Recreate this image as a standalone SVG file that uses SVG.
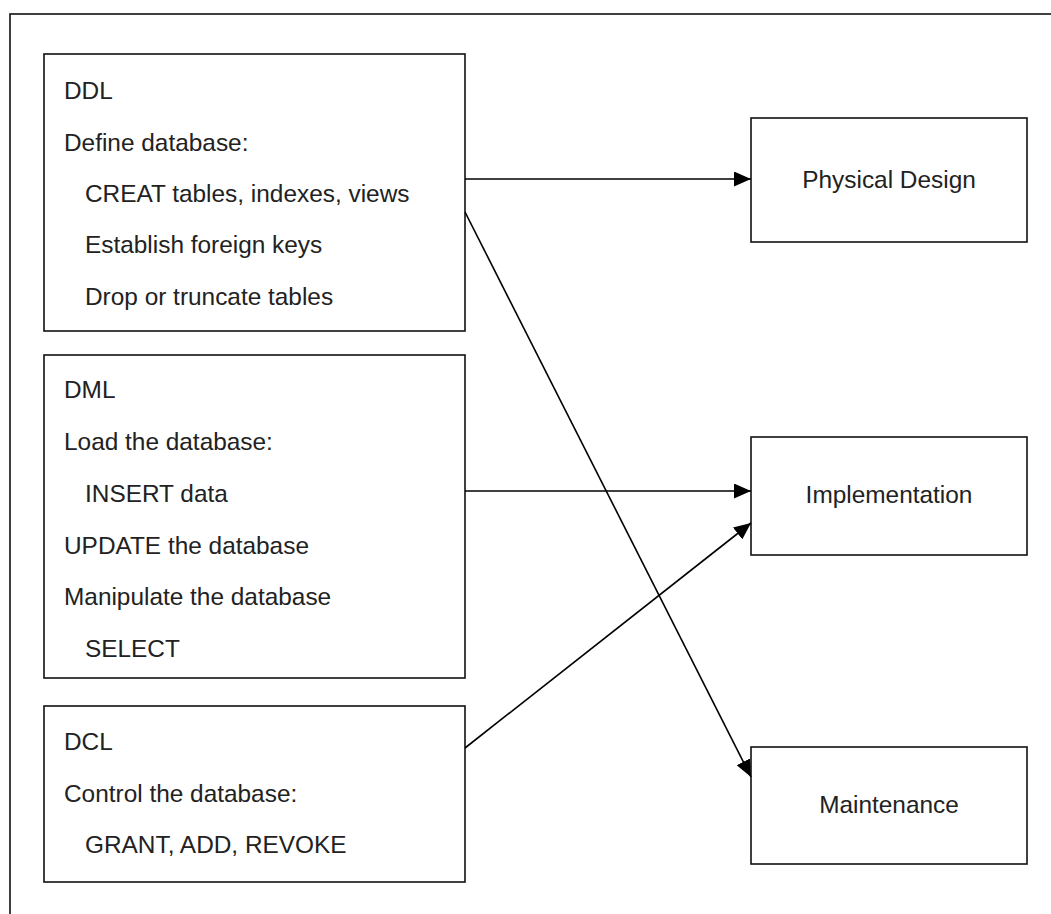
<svg xmlns="http://www.w3.org/2000/svg" width="1051" height="914" viewBox="0 0 1051 914">
<style>
.box{fill:#fff;stroke:#111;stroke-width:1.6}
.t{font-family:"Liberation Sans",Arial,sans-serif;font-size:24.4px;fill:#222}
.c{text-anchor:middle}
.conn{stroke:#000;stroke-width:1.6;fill:none;marker-end:url(#ah)}
</style>
<defs>
<marker id="ah" markerUnits="userSpaceOnUse" markerWidth="18" markerHeight="15" refX="17" refY="7.5" orient="auto">
<path d="M0,0 L17,7.5 L0,15 z" fill="#000"/>
</marker>
</defs>
<rect width="1051" height="914" fill="#fff"/>
<rect x="10" y="14" width="1100" height="1000" fill="none" stroke="#111" stroke-width="1.6"/>
<g id="ddl">
<rect class="box" x="44" y="54" width="421" height="277"/>
<text class="t" x="64" y="99">DDL</text>
<text class="t" x="64" y="151">Define database:</text>
<text class="t" x="85" y="202">CREAT tables, indexes, views</text>
<text class="t" x="85" y="253">Establish foreign keys</text>
<text class="t" x="85" y="305">Drop or truncate tables</text>
</g>
<g id="dml">
<rect class="box" x="44" y="355" width="421" height="323"/>
<text class="t" x="64" y="398">DML</text>
<text class="t" x="64" y="450">Load the database:</text>
<text class="t" x="85" y="502">INSERT data</text>
<text class="t" x="64" y="554">UPDATE the database</text>
<text class="t" x="64" y="605">Manipulate the database</text>
<text class="t" x="85" y="657">SELECT</text>
</g>
<g id="dcl">
<rect class="box" x="44" y="706" width="421" height="176"/>
<text class="t" x="64" y="750">DCL</text>
<text class="t" x="64" y="802">Control the database:</text>
<text class="t" x="85" y="853">GRANT, ADD, REVOKE</text>
</g>
<g id="physical">
<rect class="box" x="751" y="118" width="276" height="124"/>
<text class="t c" x="889" y="188">Physical Design</text>
</g>
<g id="implementation">
<rect class="box" x="751" y="437" width="276" height="118"/>
<text class="t c" x="889" y="503">Implementation</text>
</g>
<g id="maintenance">
<rect class="box" x="751" y="747" width="276" height="117"/>
<text class="t c" x="889" y="813">Maintenance</text>
</g>
<g id="connectors">
<line class="conn" x1="465" y1="179" x2="751" y2="179"/>
<line class="conn" x1="465" y1="491" x2="751" y2="491"/>
<line class="conn" x1="465" y1="748" x2="751" y2="523"/>
<line class="conn" x1="465" y1="212" x2="751" y2="777"/>
</g>
</svg>
